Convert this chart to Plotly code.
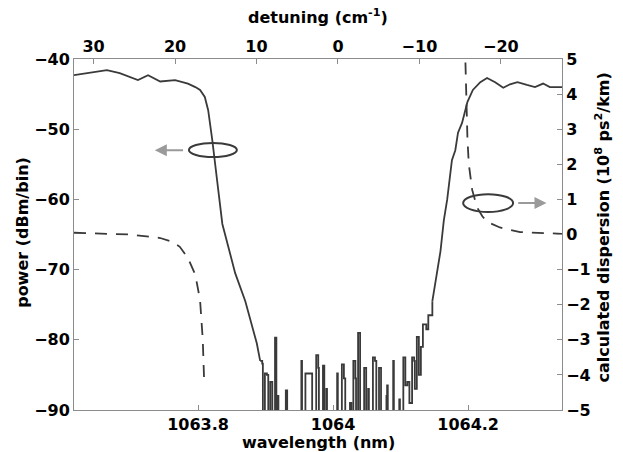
import plotly.graph_objects as go

# ---------------- data ----------------
# measured power spectrum (wavelength nm, power dBm/bin)
# short-wavelength edge
edge_left_wl = [
    1063.6163, 1063.640, 1063.665, 1063.684, 1063.711, 1063.726, 1063.744, 1063.766,
    1063.785, 1063.796, 1063.803, 1063.810, 1063.815, 1063.821, 1063.825, 1063.830,
    1063.836, 1063.844, 1063.855, 1063.870, 1063.881, 1063.887, 1063.892,
]
edge_left_dbm = [
    -42.3, -42.0, -41.6, -42.0, -43.0, -42.3, -43.2, -43.0,
    -43.5, -44.0, -44.4, -45.4, -47.3, -51.5, -54.4, -58.7,
    -63.5, -66.5, -70.5, -74.5, -78.2, -80.5, -83.0,
]
# noise-floor region (sampled spectrum, drawn as steps)
noise_wl = [
    1063.892, 1063.895, 1063.896, 1063.899, 1063.902, 1063.904, 1063.907, 1063.910,
    1063.914, 1063.916, 1063.917, 1063.919, 1063.930, 1063.932, 1063.953, 1063.954,
    1063.959, 1063.962, 1063.967, 1063.969, 1063.975, 1063.978, 1063.979, 1063.985,
    1063.987, 1063.990, 1063.991, 1064.006, 1064.007, 1064.013, 1064.016, 1064.018,
    1064.025, 1064.027, 1064.030, 1064.033, 1064.034, 1064.037, 1064.040, 1064.046,
    1064.049, 1064.052, 1064.053, 1064.059, 1064.062, 1064.064, 1064.068, 1064.071,
    1064.079, 1064.080, 1064.081, 1064.089, 1064.090, 1064.098, 1064.099, 1064.104,
    1064.107, 1064.110, 1064.113, 1064.117, 1064.120, 1064.121, 1064.124, 1064.127,
    1064.130, 1064.133, 1064.138, 1064.141, 1064.147,
]
noise_dbm = [
    -83.0, -83.4, -91.0, -84.8, -85.0, -91.0, -86.0, -91.0,
    -79.7, -91.0, -88.0, -91.0, -87.2, -91.0, -83.0, -91.0,
    -84.8, -84.8, -84.8, -91.0, -82.2, -84.0, -91.0, -83.7,
    -91.0, -87.0, -91.0, -84.8, -91.0, -83.5, -85.5, -91.0,
    -89.0, -91.0, -83.0, -85.5, -91.0, -79.0, -91.0, -84.0,
    -91.0, -87.0, -91.0, -82.5, -83.0, -91.0, -84.0, -91.0,
    -88.0, -86.5, -91.0, -83.0, -91.0, -88.5, -91.0, -82.5,
    -86.5, -86.0, -89.0, -82.5, -83.0, -87.0, -79.6, -85.0,
    -81.0, -77.8, -78.5, -76.5, -74.5,
]
# long-wavelength edge
edge_right_wl = [
    1064.147, 1064.153, 1064.159, 1064.164, 1064.169, 1064.176, 1064.181, 1064.185,
    1064.191, 1064.199, 1064.207, 1064.218, 1064.228, 1064.240, 1064.252, 1064.262,
    1064.273, 1064.287, 1064.299, 1064.311, 1064.321, 1064.339,
]
edge_right_dbm = [
    -74.5, -71.0, -67.4, -63.0, -60.0, -54.4, -53.0, -50.5,
    -49.1, -46.1, -44.4, -43.3, -42.7, -43.3, -44.1, -43.6,
    -43.3, -43.7, -44.0, -43.5, -44.0, -44.0,
]

# calculated dispersion (10^8 ps^2/km), two branches
disp_left_wl = [1063.6163, 1063.655, 1063.699, 1063.744, 1063.761, 1063.773,
                1063.785, 1063.796, 1063.803, 1063.807, 1063.809]
disp_left = [0.05, 0.03, 0.0, -0.1, -0.2, -0.35, -0.67, -1.15, -1.87, -3.0, -4.15]
disp_right_wl = [1064.196, 1064.197, 1064.199, 1064.201, 1064.206, 1064.213,
                 1064.221, 1064.228, 1064.247, 1064.277, 1064.317, 1064.339]
disp_right = [4.9, 3.8, 2.7, 2.0, 1.27, 0.78, 0.52, 0.36, 0.2, 0.07, 0.03, 0.02]

# axes
wl_range = [1063.6163, 1064.339]
wl_ticks = [1063.8, 1064.0, 1064.2]
wl_ticktext = ["1063.8", "1064", "1064.2"]
detuning_range = [32.4, -27.5]
detuning_ticks = [30, 20, 10, 0, -10, -20]
power_range = [-90, -40]
power_ticks = [-90, -80, -70, -60, -50, -40]
disp_range = [-5, 5]
disp_ticks = [-5, -4, -3, -2, -1, 0, 1, 2, 3, 4, 5]

# ---------------- figure ----------------
LINE = "#3a3a3a"
AX = "#8c8c8c"
FONT = dict(family="DejaVu Sans", size=16, color="black", weight="bold")

fig = go.Figure()
for xs, ys, shape in [(edge_left_wl, edge_left_dbm, "linear"),
                      (noise_wl, noise_dbm, "hv"),
                      (edge_right_wl, edge_right_dbm, "linear")]:
    fig.add_trace(go.Scatter(x=xs, y=ys, mode="lines",
                             line=dict(color=LINE, width=1.8, shape=shape),
                             xaxis="x", yaxis="y", hoverinfo="skip", showlegend=False))
fig.add_trace(go.Scatter(x=disp_left_wl + [None] + disp_right_wl,
                         y=disp_left + [None] + disp_right, mode="lines",
                         line=dict(color=LINE, width=1.8, dash="12px,9px"),
                         xaxis="x", yaxis="y2", connectgaps=False,
                         hoverinfo="skip", showlegend=False))
# invisible trace to activate the top detuning axis
fig.add_trace(go.Scatter(x=detuning_range, y=power_range, mode="lines",
                         line=dict(width=0), opacity=0, xaxis="x2", yaxis="y",
                         hoverinfo="skip", showlegend=False))

common = dict(showline=True, linecolor=AX, linewidth=1, ticks="inside", ticklen=5,
              tickcolor=AX, showgrid=False, zeroline=False, tickfont=FONT)

fig.update_layout(
    width=623, height=452,
    margin=dict(l=74, r=61, t=59, b=42),
    paper_bgcolor="white", plot_bgcolor="white",
    font=FONT,
    xaxis=dict(range=wl_range, tickvals=wl_ticks, ticktext=wl_ticktext, **common),
    xaxis2=dict(range=detuning_range, tickvals=detuning_ticks, overlaying="x",
                side="top", anchor="y", **common),
    yaxis=dict(range=power_range, tickvals=power_ticks, **common),
    yaxis2=dict(range=disp_range, tickvals=disp_ticks, overlaying="y", side="right",
                anchor="x", **common),
)

# axis titles
fig.add_annotation(text="wavelength (nm)", xref="paper", yref="paper", x=0.5, y=-0.092,
                   showarrow=False, font=FONT, xanchor="center", yanchor="middle")
fig.add_annotation(text="detuning (cm<sup>-1</sup>)", xref="paper", yref="paper", x=0.5, y=1.12,
                   showarrow=False, font=FONT, xanchor="center", yanchor="middle")
fig.add_annotation(text="power (dBm/bin)", xref="paper", yref="paper", x=-0.107, y=0.507,
                   showarrow=False, font=FONT, textangle=-90, xanchor="center", yanchor="middle")
fig.add_annotation(text="calculated dispersion (10<sup>8</sup> ps<sup>2</sup>/km)",
                   xref="paper", yref="paper", x=1.084, y=0.52, showarrow=False, font=FONT,
                   textangle=-90, xanchor="center", yanchor="middle")

# ellipses marking curves and arrows indicating axes
fig.add_shape(type="circle", xref="x", yref="y", x0=1063.7865, x1=1063.8575,
              y0=-53.96, y1=-51.96, line=dict(color=LINE, width=2))
fig.add_shape(type="circle", xref="x", yref="y2", x0=1064.1926, x1=1064.2666,
              y0=0.64, y1=1.15, line=dict(color=LINE, width=2))
fig.add_annotation(x=1063.736, y=-53.0, ax=1063.780, ay=-53.0, xref="x", yref="y",
                   axref="x", ayref="y", text="", showarrow=True, arrowhead=2,
                   arrowsize=1.2, arrowwidth=2, arrowcolor="#9a9a9a")
fig.add_annotation(x=1064.316, y=0.9, ax=1064.272, ay=0.9, xref="x", yref="y2",
                   axref="x", ayref="y2", text="", showarrow=True, arrowhead=2,
                   arrowsize=1.2, arrowwidth=2, arrowcolor="#9a9a9a")

fig.write_html("out.html", config={"displayModeBar": False},
               post_script="document.body.style.margin='0';")
